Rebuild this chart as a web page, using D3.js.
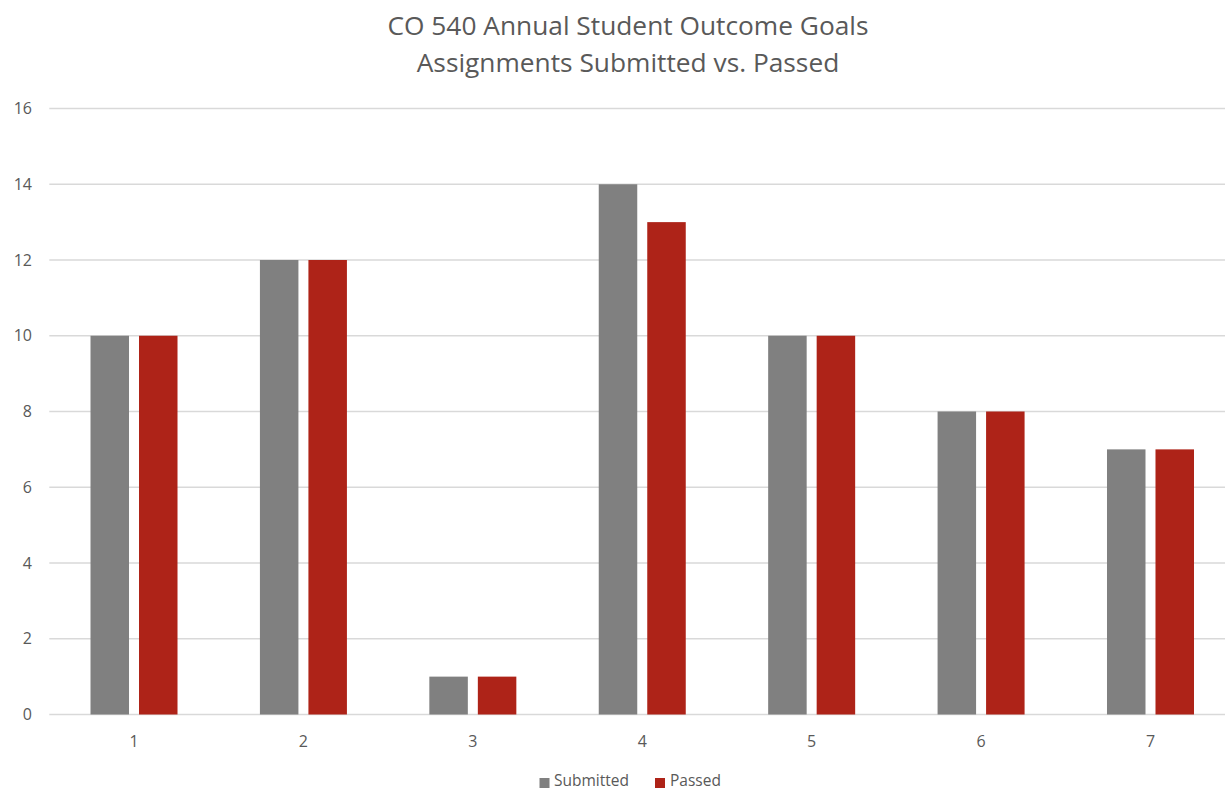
<!DOCTYPE html>
<html>
<head>
<meta charset="utf-8">
<script src="https://cdn.jsdelivr.net/npm/d3@7"></script>
<style>
  html, body { margin: 0; padding: 0; background: #fff; }
  svg { display: block; font-family: "Open Sans", "Liberation Sans", sans-serif; }
</style>
</head>
<body>
<svg id="chart" width="1225" height="791"></svg>
<script>
// Assignment groups and counts
const categories = ["1", "2", "3", "4", "5", "6", "7"];
const submitted = [10, 12, 1, 14, 10, 8, 7];
const passed = [10, 12, 1, 13, 10, 8, 7];
const seriesNames = ["Submitted", "Passed"];
const seriesColors = ["#808080", "#AE2318"];
const yTicks = [0, 2, 4, 6, 8, 10, 12, 14, 16];
const titleLines = ["CO 540 Annual Student Outcome Goals", "Assignments Submitted vs. Passed"];

const svg = d3.select("#chart");
const textColor = "#595959";

const plot = { left: 49.3, right: 1235.2, top: 108.5, bottom: 714.5 };

const x = d3.scaleBand().domain(categories).range([plot.left, plot.right]).padding(0);
const y = d3.scaleLinear().domain([0, 16]).range([plot.bottom, plot.top]);

const barW = 38.5, gap = 10;

// Gridlines
svg.append("g")
  .selectAll("line")
  .data(yTicks)
  .join("line")
  .attr("x1", plot.left)
  .attr("x2", plot.right)
  .attr("y1", d => y(d))
  .attr("y2", d => y(d))
  .attr("stroke", "#d9d9d9")
  .attr("stroke-width", 1.3);

// Y tick labels
svg.append("g")
  .selectAll("text")
  .data(yTicks)
  .join("text")
  .attr("x", 32)
  .attr("y", d => y(d))
  .attr("dy", "0.35em")
  .attr("text-anchor", "end")
  .attr("fill", textColor)
  .attr("font-size", 16)
  .text(d => d);

// Bars
const rows = categories.map((c, i) => ({ cat: c, values: [submitted[i], passed[i]] }));
const groups = svg.append("g")
  .selectAll("g")
  .data(rows)
  .join("g");

groups.selectAll("rect")
  .data(d => d.values.map((v, j) => ({ cat: d.cat, v, j })))
  .join("rect")
  .attr("x", d => {
    const c = x(d.cat) + x.bandwidth() / 2;
    return d.j === 0 ? c - gap / 2 - barW : c + gap / 2;
  })
  .attr("y", d => y(d.v))
  .attr("width", barW)
  .attr("height", d => y(0) - y(d.v))
  .attr("fill", d => seriesColors[d.j]);

// X labels
svg.append("g")
  .selectAll("text")
  .data(categories)
  .join("text")
  .attr("x", d => x(d) + x.bandwidth() / 2)
  .attr("y", 741)
  .attr("dy", "0.35em")
  .attr("text-anchor", "middle")
  .attr("fill", textColor)
  .attr("font-size", 16)
  .text(d => d);

// Title
svg.append("g")
  .selectAll("text")
  .data(titleLines)
  .join("text")
  .attr("x", 628)
  .attr("y", (d, i) => 35 + i * 37)
  .attr("text-anchor", "middle")
  .attr("fill", textColor)
  .attr("font-size", 26.3)
  .text(d => d);

// Legend
const legendItems = [
  { name: seriesNames[0], color: seriesColors[0], sx: 539.5, tx: 554 },
  { name: seriesNames[1], color: seriesColors[1], sx: 655, tx: 670 }
];
const lg = svg.append("g").selectAll("g").data(legendItems).join("g");
lg.append("rect")
  .attr("x", d => d.sx)
  .attr("y", 778)
  .attr("width", 10)
  .attr("height", 10)
  .attr("fill", d => d.color);
lg.append("text")
  .attr("x", d => d.tx)
  .attr("y", 781)
  .attr("dy", "0.35em")
  .attr("fill", textColor)
  .attr("font-size", 15.5)
  .text(d => d.name);
</script>
</body>
</html>
